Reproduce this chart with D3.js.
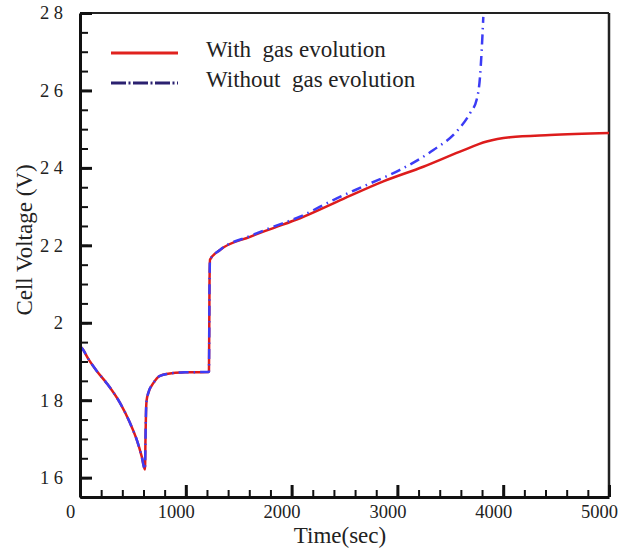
<!DOCTYPE html>
<html>
<head>
<meta charset="utf-8">
<script src="https://cdn.jsdelivr.net/npm/d3@7"></script>
<style>
  body { margin: 0; background: #fff; }
  svg text { font-family: "Liberation Serif", "Times New Roman", serif; fill: #222; }
</style>
</head>
<body>
<script>
// Cell voltage vs time, with / without gas evolution

// data
var timeWith = [0, 25, 80, 160, 252, 378, 473, 536, 583, 614, 619, 624,
    630, 646, 693, 756, 882, 1000, 1213, 1219, 1224, 1229, 1323, 1607,
    1800, 2079, 2489, 2867, 3245, 3592, 3844, 4064, 4442, 5000];
var voltWith = [1.94, 1.932, 1.906, 1.875, 1.844, 1.793, 1.741, 1.698,
    1.655, 1.621, 1.70, 1.77, 1.80, 1.819, 1.844, 1.863, 1.870, 1.872,
    1.873, 1.875, 2.10, 2.163, 2.188, 2.222, 2.242, 2.27, 2.32, 2.365,
    2.403, 2.442, 2.468, 2.479, 2.485, 2.490];

var timeWithout = [0, 25, 80, 160, 252, 378, 473, 536, 583, 614, 619, 624,
    630, 646, 693, 756, 882, 1000, 1213, 1219, 1224, 1229, 1323, 1607,
    1800, 2079, 2394, 2710, 3025, 3340, 3560, 3686, 3749, 3781, 3797,
    3812];
var voltWithout = [1.94, 1.932, 1.906, 1.875, 1.844, 1.793, 1.741, 1.698,
    1.655, 1.621, 1.70, 1.77, 1.80, 1.819, 1.844, 1.863, 1.870, 1.872,
    1.873, 1.875, 2.10, 2.163, 2.188, 2.224, 2.245, 2.274, 2.317, 2.356,
    2.395, 2.446, 2.494, 2.541, 2.576, 2.636, 2.705, 2.79];

var xTicks = [0, 1000, 2000, 3000, 4000, 5000];
var yTicks = [1.6, 1.8, 2.0, 2.2, 2.4, 2.6, 2.8];
var yTickLabels = ["1 6", "1 8", "2", "2 2", "2 4", "2 6", "2 8"];
var seriesNames = ["With  gas evolution", "Without  gas evolution"];

var width = 618, height = 551;
var serif = "Liberation Serif";

var svg = d3.select("body").append("svg")
    .attr("width", width)
    .attr("height", height);

var x = d3.scaleLinear().domain([0, 5000]).range([80, 609]);
var y = d3.scaleLinear().domain([1.55, 2.8]).range([497, 13]);

var line = d3.line()
    .x(function(d) { return x(d[0]); })
    .y(function(d) { return y(d[1]); })
    .curve(d3.curveMonotoneX);

var withData = d3.zip(timeWith, voltWith);
var withoutData = d3.zip(timeWithout, voltWithout);

// frame top + right
svg.append("line")
    .attr("x1", x(0)).attr("x2", x(5000))
    .attr("y1", y(2.8)).attr("y2", y(2.8))
    .attr("stroke", "#222").attr("stroke-width", 2);
svg.append("line")
    .attr("x1", x(5000)).attr("x2", x(5000))
    .attr("y1", y(2.8)).attr("y2", y(1.55))
    .attr("stroke", "#222").attr("stroke-width", 2.5);

// curves
svg.append("path")
    .datum(withData)
    .attr("d", line)
    .attr("fill", "none")
    .attr("stroke", "#dd1c1c")
    .attr("stroke-width", 2.5);

svg.append("path")
    .datum(withoutData)
    .attr("d", line)
    .attr("fill", "none")
    .attr("stroke", "#3c3cf5")
    .attr("stroke-width", 2.5)
    .attr("stroke-dasharray", "10,5,1.5,5");

// x axis
var xMinor = d3.range(0, 5001, 200);
svg.append("g")
    .attr("transform", "translate(0," + y(1.55) + ")")
    .call(d3.axisBottom(x).tickValues(xMinor).tickSize(-7)
        .tickFormat(""))
    .call(function(g) { g.select(".domain").remove(); })
    .selectAll("line").attr("stroke", "#111").attr("stroke-width", 2);

var xAxis = svg.append("g")
    .attr("transform", "translate(0," + y(1.55) + ")")
    .call(d3.axisBottom(x).tickValues(xTicks).tickSizeInner(-12)
        .tickSizeOuter(0).tickPadding(8).tickFormat(d3.format("d")))
    .attr("font-family", serif)
    .attr("font-size", 18.5);
xAxis.select(".domain").attr("stroke", "#111").attr("stroke-width", 3);
xAxis.selectAll(".tick line").attr("stroke", "#111").attr("stroke-width", 3);
xAxis.selectAll(".tick text")
    .attr("dx", -10);

// y axis
var yMinor = d3.range(1.55, 2.801, 0.05);
svg.append("g")
    .attr("transform", "translate(" + x(0) + ",0)")
    .call(d3.axisLeft(y).tickValues(yMinor).tickSize(-8)
        .tickFormat(""))
    .call(function(g) { g.select(".domain").remove(); })
    .selectAll("line").attr("stroke", "#111").attr("stroke-width", 2);

var yAxis = svg.append("g")
    .attr("transform", "translate(" + x(0) + ",0)")
    .call(d3.axisLeft(y).tickValues(yTicks).tickSizeInner(-12)
        .tickSizeOuter(0).tickPadding(17)
        .tickFormat(function(d, i) { return yTickLabels[i]; }))
    .attr("font-family", serif)
    .attr("font-size", 18.5);
yAxis.select(".domain").attr("stroke", "#111").attr("stroke-width", 3);
yAxis.selectAll(".tick line").attr("stroke", "#111").attr("stroke-width", 3);
yAxis.selectAll(".tick text")
    .style("white-space", "pre");

// axis titles
svg.append("text")
    .attr("x", 340).attr("y", 543)
    .attr("text-anchor", "middle")
    .attr("font-family", serif)
    .attr("font-size", 23)
    .text("Time(sec)");

svg.append("text")
    .attr("transform", "translate(32,240) rotate(-90)")
    .attr("text-anchor", "middle")
    .attr("font-family", serif)
    .attr("font-size", 23)
    .text("Cell Voltage (V)");

// legend
var legend = svg.append("g");
legend.append("line")
    .attr("x1", 111).attr("x2", 178).attr("y1", 53).attr("y2", 53)
    .attr("stroke", "#e0221e").attr("stroke-width", 3);
legend.append("line")
    .attr("x1", 111).attr("x2", 178).attr("y1", 83).attr("y2", 83)
    .attr("stroke", "#2b2170").attr("stroke-width", 3)
    .attr("stroke-dasharray", "15,2.5,2,2.5");
legend.selectAll("text.lbl")
    .data(seriesNames)
    .enter().append("text")
    .attr("class", "lbl")
    .attr("x", 206)
    .attr("y", function(d, i) { return 57 + i * 30; })
    .attr("font-family", serif)
    .attr("font-size", 23)
    .style("white-space", "pre")
    .text(function(d) { return d; });
</script>
</body>
</html>
